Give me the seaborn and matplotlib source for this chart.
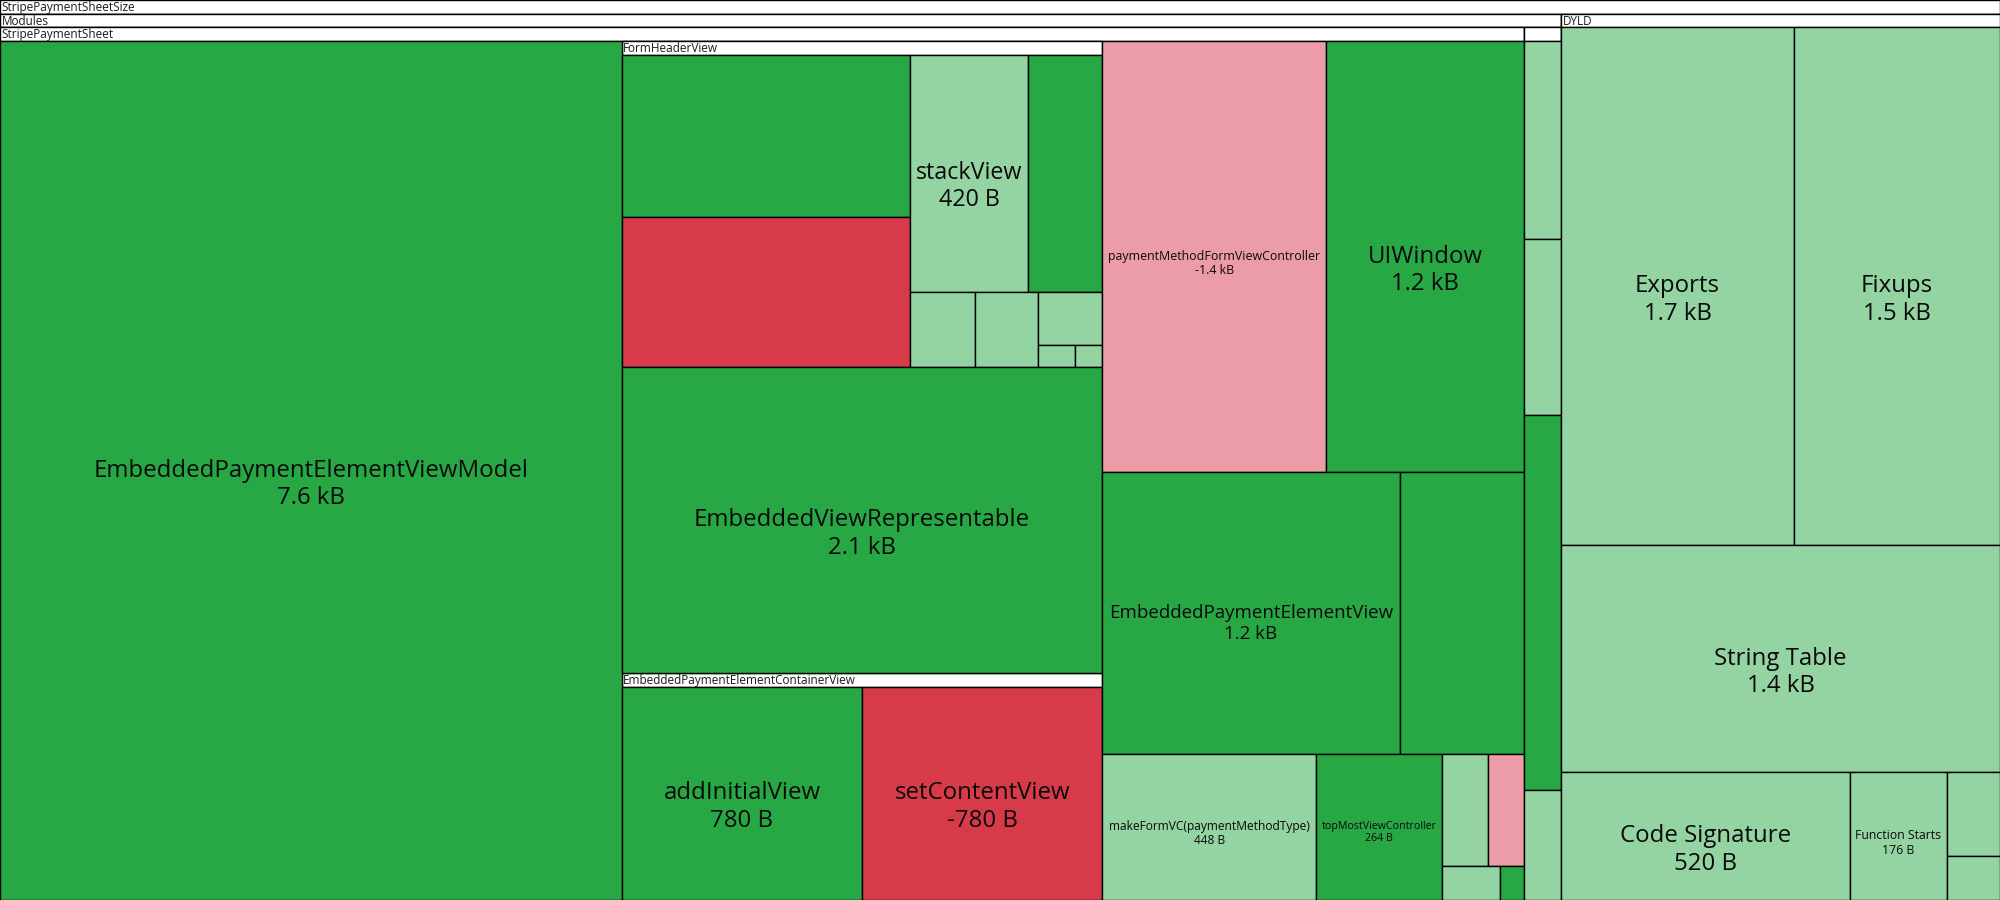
import matplotlib
matplotlib.use("Agg")
import matplotlib.pyplot as plt
import seaborn as sns

# ---------------- data (bytes; sign = growth / shrink) ----------------
ROOT_NAME = "StripePaymentSheetSize"
TOP_NAMES = ["Modules", "DYLD"]
MODULE_NAMES = ["StripePaymentSheet", ""]

# StripePaymentSheet module (None = nested group)
SPS_NAMES = ["EmbeddedPaymentElementViewModel", "FormHeaderView", "EmbeddedViewRepresentable",
             "EmbeddedPaymentElementContainerView", "paymentMethodFormViewController", "UIWindow",
             "EmbeddedPaymentElementView", "", "makeFormVC(paymentMethodType)", "topMostViewController",
             "", "", "", ""]
SPS_BYTES = [7636, None, 2100, None, -1380, 1220, 1197, 501, 448, 264, 73, -58, 28, 12]
SPS_KINDS = ["G", None, "G", None, "r", "G", "G", "G", "g", "G", "g", "r", "g", "G"]

FHV_NAMES = ["", "", "stackView", "", "", "", "", "", ""]
FHV_BYTES = [697, -644, 420, 262, 73, 70, 51, 12, 9]
FHV_KINDS = ["G", "R", "g", "G", "g", "g", "g", "g", "g"]

EPECV_NAMES = ["addInitialView", "setContentView"]
EPECV_BYTES = [780, -780]
EPECV_KINDS = ["G", "R"]

MOD2_NAMES = ["", "", "", ""]
MOD2_BYTES = [104, 93, 197, 58]
MOD2_KINDS = ["g", "g", "G", "g"]

DYLD_NAMES = ["Exports", "Fixups", "String Table", "Code Signature", "Function Starts", "", ""]
DYLD_BYTES = [1700, 1500, 1400, 520, 176, 62, 33]
DYLD_KINDS = ["g", "g", "g", "g", "g", "g", "g"]

PALETTE = {"G": "#28a745", "g": "#94d3a2", "R": "#d73a49", "r": "#ec9ca6"}

# ---------------- style ----------------
sns.set_theme(style="white")
plt.rcParams['font.family'] = ['Open Sans', 'DejaVu Sans']

W, H = 2000, 900
HEADER = 13.7
PHI = (1 + 5 ** 0.5) / 2
MAX_FS_PX = 24
HEADER_FS_PX = 11.7


def leaves(names, values, kinds):
    return [dict(name=n, value=v, kind=k) for n, v, k in zip(names, values, kinds)]


fhv = dict(name="FormHeaderView", children=leaves(FHV_NAMES, FHV_BYTES, FHV_KINDS))
epecv = dict(name="EmbeddedPaymentElementContainerView",
             children=leaves(EPECV_NAMES, EPECV_BYTES, EPECV_KINDS))
nested = {fhv["name"]: fhv, epecv["name"]: epecv}
sps_children = [nested[n] if v is None else dict(name=n, value=v, kind=k)
                for n, v, k in zip(SPS_NAMES, SPS_BYTES, SPS_KINDS)]
sps = dict(name=MODULE_NAMES[0], children=sps_children)
mod2 = dict(name=MODULE_NAMES[1], children=leaves(MOD2_NAMES, MOD2_BYTES, MOD2_KINDS))
modules = dict(name=TOP_NAMES[0], children=[sps, mod2])
dyld = dict(name=TOP_NAMES[1], children=leaves(DYLD_NAMES, DYLD_BYTES, DYLD_KINDS),
            row_dice={1: True})
root = dict(name=ROOT_NAME, children=[modules, dyld])


def size(node):
    if "children" in node:
        return sum(size(c) for c in node["children"])
    return abs(node["value"])


def squarify(values, x0, y0, x1, y1, row_dice=None):
    n = len(values)
    rects = [None] * n
    total = float(sum(values))
    i0 = i1 = 0
    row = 0
    while i0 < n:
        dx, dy = x1 - x0, y1 - y0
        s = values[i1]
        i1 += 1
        mn = mx = s
        alpha = max(dy / dx, dx / dy) / (total * PHI)
        beta = s * s * alpha
        best = max(mx / beta, beta / mn)
        while i1 < n:
            v = values[i1]
            s2 = s + v
            mn2, mx2 = min(mn, v), max(mx, v)
            beta = s2 * s2 * alpha
            r = max(mx2 / beta, beta / mn2)
            if r > best:
                break
            s, mn, mx, best = s2, mn2, mx2, r
            i1 += 1
        dice = dx < dy
        if row_dice and row in row_dice:
            dice = row_dice[row]
        if dice:
            h = dy * s / total
            x = x0
            for k in range(i0, i1):
                w = dx * values[k] / s
                rects[k] = (x, y0, x + w, y0 + h)
                x += w
            y0 += h
        else:
            w = dx * s / total
            y = y0
            for k in range(i0, i1):
                hh = dy * values[k] / s
                rects[k] = (x0, y, x0 + w, y + hh)
                y += hh
            x0 += w
        total -= s
        i0 = i1
        row += 1
    return rects


def layout(node, rect):
    node["rect"] = rect
    if "children" in node:
        x0, y0, x1, y1 = rect
        vals = [size(c) for c in node["children"]]
        rects = squarify(vals, x0, y0 + HEADER, x1, y1, node.get("row_dice"))
        for c, r in zip(node["children"], rects):
            layout(c, r)


layout(root, (0, 0, W, H))


def fmt(v):
    if abs(v) >= 1000:
        return f"{v / 1000:.1f} kB"
    return f"{v} B"


fig = plt.figure(figsize=(W / 100, H / 100), dpi=100)
ax = fig.add_axes([0, 0, 1, 1])
ax.set_xlim(0, W)
ax.set_ylim(H, 0)
ax.axis("off")
fig.canvas.draw()
renderer = fig.canvas.get_renderer()
PT = 72 / 100.0  # px -> pt

groups, leaf_nodes = [], []


def collect(node):
    if "children" in node:
        groups.append(node)
        for c in node["children"]:
            collect(c)
    else:
        leaf_nodes.append(node)


collect(root)

LW = 1.0
for g in groups:
    x0, y0, x1, y1 = g["rect"]
    ax.bar(x0, y1 - y0, width=x1 - x0, bottom=y0, align="edge", color="white",
           edgecolor="black", linewidth=LW, zorder=1)
    ax.bar(x0, HEADER, width=x1 - x0, bottom=y0, align="edge", color="white",
           edgecolor="black", linewidth=LW, zorder=1)

for lf in leaf_nodes:
    x0, y0, x1, y1 = lf["rect"]
    ax.bar(x0, y1 - y0, width=x1 - x0, bottom=y0, align="edge", color=PALETTE[lf["kind"]],
           edgecolor="black", linewidth=LW, zorder=2)

# header labels
for g in groups:
    if not g["name"]:
        continue
    x0, y0, x1, y1 = g["rect"]
    t = ax.text(x0 + 1.5, y0 + HEADER / 2 + 0.5, g["name"], fontsize=HEADER_FS_PX * PT,
                ha="left", va="center", color="#1a1a1a", zorder=5)
    if t.get_window_extent(renderer).width > (x1 - x0) - 3:
        t.remove()

# leaf labels
for lf in leaf_nodes:
    if not lf["name"]:
        continue
    x0, y0, x1, y1 = lf["rect"]
    cx, cy = (x0 + x1) / 2, (y0 + y1) / 2
    fs_px = MAX_FS_PX
    t = ax.text(cx, cy, lf["name"], fontsize=fs_px * PT, ha="center", va="center",
                color="#0a0a0a", zorder=5)
    avail = (x1 - x0) - 12
    wpx = t.get_window_extent(renderer).width
    if wpx > avail:
        fs_px = fs_px * avail / wpx
        t.set_fontsize(fs_px * PT)
    if fs_px < 7:
        t.remove()
        continue
    ax.text(cx, cy + 1.15 * fs_px, fmt(lf["value"]), fontsize=fs_px * PT, ha="center",
            va="center", color="#0a0a0a", zorder=5)

fig.savefig("out.png", dpi=100)
